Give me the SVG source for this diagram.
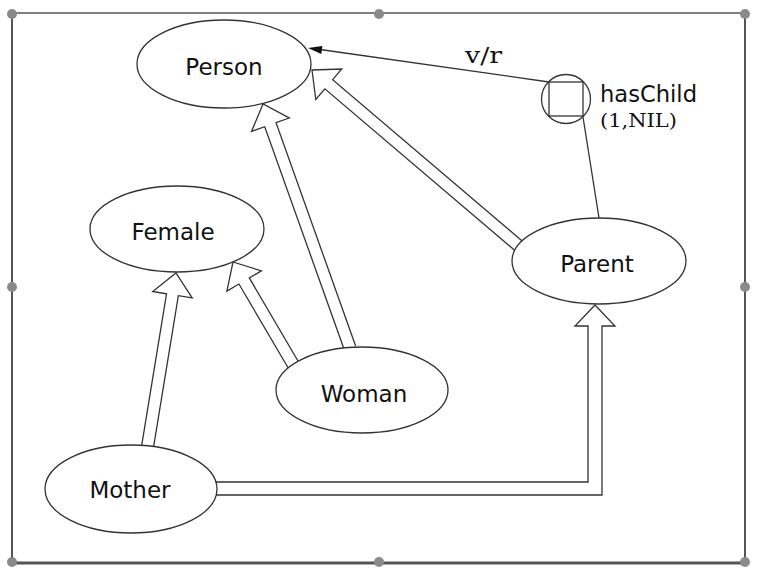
<svg xmlns="http://www.w3.org/2000/svg" width="762" height="573" viewBox="0 0 762 573">
<style>
.frame{fill:none;stroke:#555}
.handle{fill:#8a8a8a}
.conn{fill:none;stroke:#333;stroke-width:1.3;stroke-linejoin:miter}
.node{fill:#fff;stroke:#333;stroke-width:1.3}
.lbl{font-family:"DejaVu Sans",Verdana,sans-serif;font-size:23px;fill:#111;text-anchor:middle}
.ser{font-family:"DejaVu Serif","Liberation Serif",serif;fill:#111}
</style>
<rect width="762" height="573" fill="#fff"/>
<g id="frame">
<line class="frame" x1="12" y1="13" x2="745" y2="13" stroke-width="1.5" stroke="#777"/>
<line class="frame" x1="12" y1="13" x2="12" y2="563" stroke-width="2"/>
<line class="frame" x1="745" y1="13" x2="745" y2="563" stroke-width="2"/>
<line class="frame" x1="12" y1="563" x2="745" y2="563" stroke-width="3"/>
<circle class="handle" cx="12" cy="14" r="5"/>
<circle class="handle" cx="379" cy="14" r="5"/>
<circle class="handle" cx="745" cy="14" r="5"/>
<circle class="handle" cx="12" cy="287" r="5"/>
<circle class="handle" cx="745" cy="287" r="5"/>
<circle class="handle" cx="12" cy="562" r="5"/>
<circle class="handle" cx="379" cy="562" r="5"/>
<circle class="handle" cx="745" cy="562" r="5"/>
</g>
<g id="connectors">
<path class="conn" d="M355.65,345.99 L276.04,122.71 L289.23,118.0 L263,104 L251.55,131.44 L264.74,126.73 L344.35,350.01"/>
<path class="conn" d="M299.18,362.96 L249.31,277.94 L261.38,270.86 L233,262 L226.88,291.1 L238.95,284.02 L288.82,369.04"/>
<path class="conn" d="M152.92,450.97 L178.36,295.68 L192.18,297.94 L176,273 L152.7,291.48 L166.52,293.74 L141.08,449.03"/>
<path class="conn" d="M523.89,242.43 L332.65,79.69 L341.72,69.03 L312,70 L315.8,99.49 L324.87,88.83 L516.11,251.57"/>
<path class="conn" d="M210,482 H588 V326 H575 L595,305 L615,326 H602 V495 H210"/>
<line class="conn" x1="549" y1="82" x2="320" y2="49.5"/>
<polygon points="308,48 322.4,46 321.3,53.9" fill="#111"/>
<line class="conn" x1="583" y1="117" x2="599" y2="218"/>
<text class="ser" x="465" y="63" font-size="22" textLength="37" lengthAdjust="spacingAndGlyphs">v/r</text>
</g>
<g id="Person">
<ellipse class="node" cx="224" cy="64" rx="87" ry="44"/>
<text class="lbl" x="224" y="75">Person</text>
</g>
<g id="Female">
<ellipse class="node" cx="177" cy="229" rx="87" ry="43"/>
<text class="lbl" x="173" y="240">Female</text>
</g>
<g id="Parent">
<ellipse class="node" cx="599" cy="261" rx="87" ry="43"/>
<text class="lbl" x="597" y="272">Parent</text>
</g>
<g id="Woman">
<ellipse class="node" cx="362" cy="390" rx="86" ry="43"/>
<text class="lbl" x="364" y="402">Woman</text>
</g>
<g id="Mother">
<ellipse class="node" cx="131" cy="489" rx="86" ry="44"/>
<text class="lbl" x="130" y="498">Mother</text>
</g>
<g id="hasChild">
<circle cx="566" cy="99" r="24.5" fill="#fff" stroke="#333" stroke-width="1.3"/>
<rect x="549" y="82" width="34" height="34" fill="none" stroke="#333" stroke-width="1.3"/>
<text x="600" y="102" font-family="DejaVu Sans,Verdana,sans-serif" font-size="23" fill="#111" textLength="97" lengthAdjust="spacingAndGlyphs">hasChild</text>
<text class="ser" x="600" y="127" font-size="19" textLength="77" lengthAdjust="spacingAndGlyphs">(1,NIL)</text>
</g>
</svg>
